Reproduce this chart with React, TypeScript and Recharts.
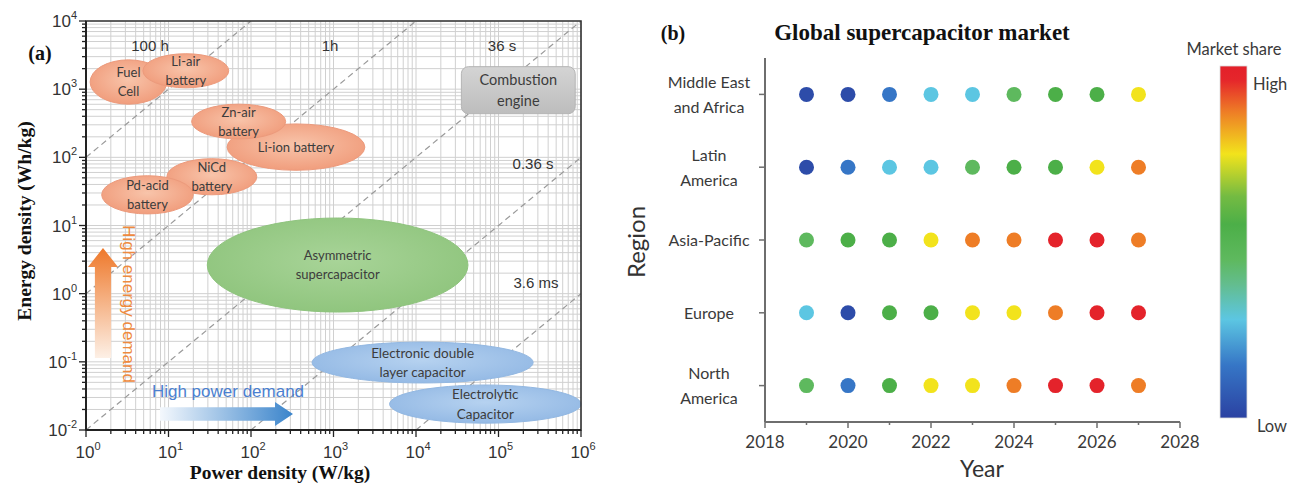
import React from "react";
import { ScatterChart, Scatter, XAxis, YAxis, CartesianGrid, ReferenceArea } from "recharts";

const SANS = "'Liberation Sans', Arial, sans-serif";
const SERIF = "'Liberation Serif', 'Times New Roman', serif";
const SOFT = "Lato, 'Open Sans', sans-serif";

// ---------- (a) Ragone plot ----------
const powerDecades = [0, 1, 2, 3, 4, 5, 6]; // log10 W/kg
const energyDecades = [-2, -1, 0, 1, 2, 3, 4]; // log10 Wh/kg

// characteristic times E/P, in hours
const timeConstants = [100, 1, 0.01, 1e-4, 1e-6];

type Region = { lines: string[]; p: [number, number]; e: [number, number]; tone: string };

// device regions as log10 bounds of power and energy density
const devices: Region[] = [
  { lines: ["Fuel", "Cell"], p: [0.05, 0.98], e: [2.78, 3.43], tone: "salmon" },
  { lines: ["Li-air", "battery"], p: [0.69, 1.73], e: [3.02, 3.52], tone: "salmon" },
  { lines: ["Li-ion battery"], p: [1.71, 3.38], e: [1.81, 2.49], tone: "salmon" },
  { lines: ["Zn-air", "battery"], p: [1.28, 2.42], e: [2.27, 2.78], tone: "salmon" },
  { lines: ["NiCd", "battery"], p: [0.98, 2.07], e: [1.45, 1.98], tone: "salmon" },
  { lines: ["Pd-acid", "battery"], p: [0.19, 1.3], e: [1.17, 1.73], tone: "salmon" },
  { lines: ["Asymmetric", "supercapacitor"], p: [1.47, 4.63], e: [-0.27, 1.11], tone: "green" },
  { lines: ["Electronic double", "layer capacitor"], p: [2.74, 5.42], e: [-1.31, -0.71], tone: "blue" },
  { lines: ["Electrolytic", "Capacitor"], p: [3.68, 6.0], e: [-1.9, -1.34], tone: "blue" },
];
const engine: Region = { lines: ["Combustion", "engine"], p: [4.55, 5.93], e: [2.64, 3.33], tone: "gray" };

// demand arrows, log10 bounds
const energyArrow = { p: [0.024, 0.388], e: [-0.944, 0.67] };
const powerArrow = { p: [0.897, 2.509], e: [-1.941, -1.589] };

function logTicks(decades: number[]) {
  const out: number[] = [];
  decades.forEach((d, i) => {
    if (i === decades.length - 1) {
      out.push(10 ** d);
      return;
    }
    for (let m = 1; m <= 9; m++) out.push(+(m * 10 ** d).toPrecision(3));
  });
  return out;
}

const pTicks = logTicks(powerDecades);
const eTicks = logTicks(energyDecades);
const pMin = 10 ** powerDecades[0];
const pMax = 10 ** powerDecades[powerDecades.length - 1];
const eMin = 10 ** energyDecades[0];
const eMax = 10 ** energyDecades[energyDecades.length - 1];

// clip each E = t * P line to the plot box
const timeLines = timeConstants.map((h) => {
  const p0 = Math.max(pMin, eMin / h);
  const p1 = Math.min(pMax, eMax / h);
  return [
    { p: p0, e: h * p0 },
    { p: p1, e: h * p1 },
  ];
});

const TONES: Record<string, { fill: string; stroke: string }> = {
  salmon: { fill: "url(#gSalmon)", stroke: "#ec9a7c" },
  green: { fill: "url(#gGreen)", stroke: "#8fc47e" },
  blue: { fill: "url(#gBlue)", stroke: "#93b8e2" },
};

function LogTick({ x, y, payload, side }: any) {
  const v = payload.value as number;
  const exp = Math.log10(v);
  const k = Math.round(exp);
  const major = Math.abs(exp - k) < 1e-6;
  const len = major ? 7 : 4;
  if (side === "left") {
    return (
      <g>
        <line x1={x} x2={x - len} y1={y} y2={y} stroke="#222" strokeWidth={1.3} />
        {major && (
          <text x={x - 9} y={y + 6} textAnchor="end" fontFamily={SANS} fontSize={17} fill="#333">
            10<tspan dy={-8} fontSize={11}>{k}</tspan>
          </text>
        )}
      </g>
    );
  }
  return (
    <g>
      <line x1={x} x2={x} y1={y} y2={y + len} stroke="#222" strokeWidth={1.3} />
      {major && (
        <text x={x + 2} y={y + 28} textAnchor="middle" fontFamily={SANS} fontSize={17} fill="#333">
          10<tspan dy={-8} fontSize={11}>{k}</tspan>
        </text>
      )}
    </g>
  );
}

function Blob(props: any) {
  const { x, y, width, height, tone } = props;
  const t = TONES[tone];
  return (
    <ellipse
      cx={x + width / 2}
      cy={y + height / 2}
      rx={width / 2}
      ry={height / 2}
      fill={t.fill}
      stroke={t.stroke}
      strokeWidth={1}
    />
  );
}

function EngineBox(props: any) {
  const { x, y, width, height } = props;
  return (
    <rect x={x} y={y} width={width} height={height} rx={7} fill="url(#gGray)" stroke="#b4b4b4" strokeWidth={1} />
  );
}

function RegionText(props: any) {
  const { x, y, width, height, lines, size } = props;
  const cx = x + width / 2;
  const cy = y + height / 2;
  const lh = size * 1.45;
  const top = cy - ((lines.length - 1) * lh) / 2;
  return (
    <g>
      {lines.map((s: string, i: number) => (
        <text
          key={s}
          x={cx}
          y={top + i * lh + size * 0.36}
          textAnchor="middle"
          fontFamily={SOFT}
          fontSize={size}
          fill="#3c3c3c"
        >
          {s}
        </text>
      ))}
    </g>
  );
}

function UpArrow(props: any) {
  const { x, y, width: w, height: h } = props;
  const cx = x + w / 2;
  const sw = w * 0.27;
  const hh = 19;
  const pts = [
    [cx - sw, y + h],
    [cx - sw, y + hh],
    [x, y + hh],
    [cx, y],
    [x + w, y + hh],
    [cx + sw, y + hh],
    [cx + sw, y + h],
  ];
  return <polygon points={pts.map((q) => q.join(",")).join(" ")} fill="url(#gOrangeArrow)" />;
}

function RightArrow(props: any) {
  const { x, y, width: w, height: h } = props;
  const cy = y + h / 2;
  const sh = h * 0.28;
  const hl = 18;
  const pts = [
    [x, cy - sh],
    [x + w - hl, cy - sh],
    [x + w - hl, y],
    [x + w, cy],
    [x + w - hl, y + h],
    [x + w - hl, cy + sh],
    [x, cy + sh],
  ];
  return <polygon points={pts.map((q) => q.join(",")).join(" ")} fill="url(#gBlueArrow)" />;
}

function RagonePanel() {
  return (
    <ScatterChart width={600} height={484} margin={{ top: 21, right: 19, bottom: 24, left: 26 }}>
      <defs>
        <radialGradient id="gSalmon" cx="50%" cy="45%" r="60%">
          <stop offset="0%" stopColor="#f8c4aa" />
          <stop offset="100%" stopColor="#f09a79" />
        </radialGradient>
        <radialGradient id="gGreen" cx="50%" cy="45%" r="60%">
          <stop offset="0%" stopColor="#a8d498" />
          <stop offset="100%" stopColor="#8ec47c" />
        </radialGradient>
        <radialGradient id="gBlue" cx="50%" cy="45%" r="60%">
          <stop offset="0%" stopColor="#b6d2f0" />
          <stop offset="100%" stopColor="#92b8e4" />
        </radialGradient>
        <linearGradient id="gGray" x1="0" y1="0" x2="0" y2="1">
          <stop offset="0%" stopColor="#d4d4d4" />
          <stop offset="100%" stopColor="#bdbdbd" />
        </linearGradient>
        <linearGradient id="gOrangeArrow" x1="0" y1="0" x2="0" y2="1">
          <stop offset="0%" stopColor="#ee782a" />
          <stop offset="100%" stopColor="#fdf0e6" />
        </linearGradient>
        <linearGradient id="gBlueArrow" x1="0" y1="0" x2="1" y2="0">
          <stop offset="0%" stopColor="#f4f8fd" />
          <stop offset="100%" stopColor="#3a84cb" />
        </linearGradient>
      </defs>
      <CartesianGrid stroke="#d0d0d0" strokeWidth={1} />
      <XAxis
        type="number"
        dataKey="p"
        scale="log"
        domain={[pMin, pMax]}
        ticks={pTicks}
        interval={0}
        allowDataOverflow
        height={30}
        tickSize={0}
        tickMargin={0}
        axisLine={{ stroke: "#222", strokeWidth: 2 }}
        tick={<LogTick side="bottom" />}
      />
      <YAxis
        type="number"
        dataKey="e"
        scale="log"
        domain={[eMin, eMax]}
        ticks={eTicks}
        interval={0}
        allowDataOverflow
        width={60}
        tickSize={0}
        tickMargin={0}
        axisLine={{ stroke: "#222", strokeWidth: 2 }}
        tick={<LogTick side="left" />}
      />
      {timeLines.map((pts, i) => (
        <Scatter
          key={`t${i}`}
          data={pts}
          zIndex={50}
          line={{ stroke: "#9a9a9a", strokeWidth: 1.2, strokeDasharray: "6 4" }}
          shape={() => <g />}
          isAnimationActive={false}
        />
      ))}
      {devices.map((d) => (
        <ReferenceArea
          key={`b${d.lines[0]}`}
          x1={10 ** d.p[0]}
          x2={10 ** d.p[1]}
          y1={10 ** d.e[0]}
          y2={10 ** d.e[1]}
          ifOverflow="visible"
          zIndex={60}
          shape={(props: any) => <Blob {...props} tone={d.tone} />}
        />
      ))}
      <ReferenceArea
        x1={10 ** engine.p[0]}
        x2={10 ** engine.p[1]}
        y1={10 ** engine.e[0]}
        y2={10 ** engine.e[1]}
        ifOverflow="visible"
        zIndex={60}
        shape={(props: any) => <EngineBox {...props} />}
      />
      <ReferenceArea
        x1={10 ** energyArrow.p[0]}
        x2={10 ** energyArrow.p[1]}
        y1={10 ** energyArrow.e[0]}
        y2={10 ** energyArrow.e[1]}
        ifOverflow="visible"
        zIndex={60}
        shape={(props: any) => <UpArrow {...props} />}
      />
      <ReferenceArea
        x1={10 ** powerArrow.p[0]}
        x2={10 ** powerArrow.p[1]}
        y1={10 ** powerArrow.e[0]}
        y2={10 ** powerArrow.e[1]}
        ifOverflow="visible"
        zIndex={60}
        shape={(props: any) => <RightArrow {...props} />}
      />
      {[...devices, engine].map((d) => (
        <ReferenceArea
          key={`l${d.lines[0]}`}
          x1={10 ** d.p[0]}
          x2={10 ** d.p[1]}
          y1={10 ** d.e[0]}
          y2={10 ** d.e[1]}
          ifOverflow="visible"
          zIndex={70}
          shape={(props: any) => (
            <RegionText
              {...props}
              lines={d.lines}
              size={d.tone === "gray" ? 14.5 : d.tone === "blue" ? 13.5 : 13}
            />
          )}
        />
      ))}
      <ReferenceArea
        x1={pMin}
        x2={pMax}
        y1={eMin}
        y2={eMax}
        ifOverflow="visible"
        zIndex={80}
        fill="none"
        fillOpacity={0}
        stroke="#333"
        strokeWidth={1.6}
      />
    </ScatterChart>
  );
}

// ---------- (b) market share by region ----------
const years = [2019, 2020, 2021, 2022, 2023, 2024, 2025, 2026, 2027];
const yearTicks = [2018, 2019, 2020, 2021, 2022, 2023, 2024, 2025, 2026, 2027, 2028];
const regionNames = ["North\nAmerica", "Europe", "Asia-Pacific", "Latin\nAmerica", "Middle East\nand Africa"];

// relative market share, 0 = low, 1 = high
const shareNorthAmerica = [0.45, 0.15, 0.55, 0.75, 0.75, 0.87, 0.98, 0.98, 0.87];
const shareEurope = [0.28, 0.03, 0.55, 0.55, 0.75, 0.75, 0.87, 0.98, 0.98];
const shareAsiaPacific = [0.45, 0.55, 0.55, 0.75, 0.87, 0.87, 0.98, 0.98, 0.87];
const shareLatinAmerica = [0.03, 0.15, 0.28, 0.28, 0.45, 0.55, 0.55, 0.75, 0.87];
const shareMiddleEast = [0.03, 0.03, 0.15, 0.28, 0.28, 0.45, 0.55, 0.55, 0.75];

const shareRows = [shareNorthAmerica, shareEurope, shareAsiaPacific, shareLatinAmerica, shareMiddleEast];

const marketPoints = shareRows.flatMap((row, r) =>
  row.map((share, i) => ({ year: years[i], row: r + 1, share }))
);

// jet-like colour scale
const SCALE: [number, string][] = [
  [0, "#2b42a2"],
  [0.15, "#3676c6"],
  [0.28, "#5cc6e2"],
  [0.38, "#63bd8e"],
  [0.45, "#5eb95e"],
  [0.55, "#4caf48"],
  [0.63, "#74bb42"],
  [0.75, "#f2e31c"],
  [0.87, "#ee7d26"],
  [0.96, "#e5262b"],
  [1, "#e3202a"],
];

function hexToRgb(h: string) {
  const n = parseInt(h.slice(1), 16);
  return [(n >> 16) & 255, (n >> 8) & 255, n & 255];
}

function shareColor(v: number) {
  for (let i = 1; i < SCALE.length; i++) {
    const [v1, c1] = SCALE[i];
    const [v0, c0] = SCALE[i - 1];
    if (v <= v1) {
      const t = (v - v0) / (v1 - v0);
      const a = hexToRgb(c0);
      const b = hexToRgb(c1);
      const m = a.map((x, k) => Math.round(x + (b[k] - x) * t));
      return `rgb(${m[0]},${m[1]},${m[2]})`;
    }
  }
  return SCALE[SCALE.length - 1][1];
}

function MarketDot(props: any) {
  const { cx, cy, payload } = props;
  return <circle cx={cx} cy={cy} r={7.5} fill={shareColor(payload.share)} />;
}

function YearTick({ x, y, payload }: any) {
  const v = payload.value as number;
  const major = v % 2 === 0;
  return (
    <g>
      <line x1={x} x2={x} y1={y} y2={y + (major ? 6 : 3)} stroke="#6e6e6e" strokeWidth={1.5} />
      {major && (
        <text x={x} y={y + 26} textAnchor="middle" fontFamily={SOFT} fontSize={17} fill="#3a3a3a">
          {v}
        </text>
      )}
    </g>
  );
}

function RegionTick({ x, y, payload }: any) {
  const lines = regionNames[payload.value - 1].split("\n");
  const lh = 25;
  const top = y - ((lines.length - 1) * lh) / 2;
  return (
    <g>
      <line x1={x} x2={x - 6} y1={y} y2={y} stroke="#6e6e6e" strokeWidth={1.5} />
      {lines.map((s, i) => (
        <text
          key={s}
          x={x - 56}
          y={top + i * lh + 6}
          textAnchor="middle"
          fontFamily={SOFT}
          fontSize={16}
          fill="#3a3a3a"
        >
          {s}
        </text>
      ))}
    </g>
  );
}

function MarketPanel() {
  return (
    <ScatterChart width={600} height={484} margin={{ top: 58, right: 20, bottom: 22, left: 45 }}>
      <XAxis
        type="number"
        dataKey="year"
        domain={[2018, 2028]}
        ticks={yearTicks}
        interval={0}
        height={40}
        tickSize={0}
        tickMargin={0}
        axisLine={{ stroke: "#6e6e6e", strokeWidth: 2 }}
        tick={<YearTick />}
      />
      <YAxis
        type="number"
        dataKey="row"
        domain={[0.5, 5.5]}
        ticks={[1, 2, 3, 4, 5]}
        interval={0}
        width={120}
        tickSize={0}
        tickMargin={0}
        axisLine={{ stroke: "#6e6e6e", strokeWidth: 2 }}
        tick={<RegionTick />}
      />
      <Scatter data={marketPoints} shape={<MarketDot />} isAnimationActive={false} />
    </ScatterChart>
  );
}

export default function App() {
  return (
    <div
      style={{
        position: "absolute",
        left: 0,
        top: 0,
        width: 1291,
        height: 484,
        background: "#fff",
        overflow: "hidden",
      }}
    >
      <div style={{ position: "absolute", left: 0, top: 0 }}>
        <RagonePanel />
      </div>
      <div style={{ position: "absolute", left: 600, top: 0 }}>
        <MarketPanel />
      </div>
      <svg
        width={1291}
        height={484}
        style={{ position: "absolute", left: 0, top: 0, pointerEvents: "none" }}
      >
        <defs>
          <linearGradient id="gShare" x1="0" y1="1" x2="0" y2="0">
            {SCALE.map(([v, c]) => (
              <stop key={v} offset={`${v * 100}%`} stopColor={c} />
            ))}
          </linearGradient>
        </defs>
        {/* panel (a) text */}
        <text x={40} y={60} textAnchor="middle" fontFamily={SERIF} fontWeight="bold" fontSize={20} fill="#111">
          (a)
        </text>
        <g fontFamily={SANS} fontSize={15} fill="#333" textAnchor="middle">
          <text x={150} y={51}>100 h</text>
          <text x={330} y={51}>1h</text>
          <text x={502} y={51}>36 s</text>
          <text x={533} y={169}>0.36 s</text>
          <text x={536} y={288}>3.6 ms</text>
        </g>
        <text
          x={123}
          y={304}
          textAnchor="middle"
          fontFamily={SANS}
          fontSize={17}
          fill="#ee8a3e"
          transform="rotate(90 123 304)"
        >
          High energy demand
        </text>
        <text x={228} y={397} textAnchor="middle" fontFamily={SANS} fontSize={17} fill="#4b7fd0">
          High power demand
        </text>
        <text
          x={31}
          y={221}
          textAnchor="middle"
          fontFamily={SERIF}
          fontWeight="bold"
          fontSize={19.5}
          fill="#111"
          transform="rotate(-90 31 221)"
        >
          Energy density (Wh/kg)
        </text>
        <text x={280} y={479} textAnchor="middle" fontFamily={SERIF} fontWeight="bold" fontSize={19.5} fill="#111">
          Power density (W/kg)
        </text>

        {/* panel (b) text */}
        <text x={673} y={40} textAnchor="middle" fontFamily={SERIF} fontWeight="bold" fontSize={20} fill="#111">
          (b)
        </text>
        <text x={922} y={40} textAnchor="middle" fontFamily={SERIF} fontWeight="bold" fontSize={23} fill="#111">
          Global supercapacitor market
        </text>
        <text
          x={645}
          y={242}
          textAnchor="middle"
          fontFamily={SOFT}
          fontSize={24}
          fill="#333"
          transform="rotate(-90 645 242)"
        >
          Region
        </text>
        <text x={982} y={477} textAnchor="middle" fontFamily={SOFT} fontSize={23} fill="#333">
          Year
        </text>
        <rect x={1220} y={66} width={27} height={352} fill="url(#gShare)" stroke="#ddd" strokeWidth={0.8} />
        <text x={1234} y={55} textAnchor="middle" fontFamily={SOFT} fontSize={16.5} fill="#3a3a3a">
          Market share
        </text>
        <text x={1253} y={90} fontFamily={SOFT} fontSize={16.5} fill="#3a3a3a">
          High
        </text>
        <text x={1257} y={432} fontFamily={SOFT} fontSize={16.5} fill="#3a3a3a">
          Low
        </text>
      </svg>
    </div>
  );
}
